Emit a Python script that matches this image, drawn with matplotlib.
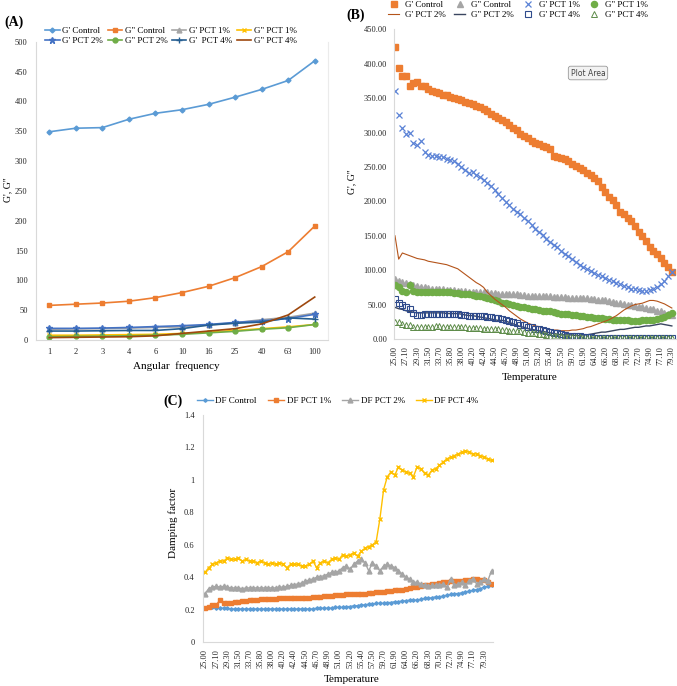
import matplotlib
matplotlib.use('Agg')
import matplotlib.pyplot as plt

plt.rcParams['font.family'] = ['Liberation Serif', 'DejaVu Serif']

# ---------------- (A) frequency sweep ----------------
freq_labels = ['1', '2', '3', '4', '6', '10', '16', '25', '40', '63', '100']
a_gp_control = [349, 355, 356, 370, 380, 386, 395, 407, 420, 435, 468]
a_gpp_control = [58, 60, 62, 65, 71, 79.5, 90, 104.5, 123, 148, 191]
a_gp_pct1 = [18, 18.5, 19, 20, 21, 22, 25, 29, 34, 38, 45]
a_gpp_pct1 = [8, 8, 8.5, 9, 9.5, 11, 13, 16, 19, 22, 26]
a_gp_pct2 = [19.5, 19.5, 20, 21, 22.5, 24, 26, 29.5, 32, 36, 43]
a_gpp_pct2 = [5.5, 6, 6.5, 7, 8, 9.5, 12, 14.5, 18, 20.5, 26]
a_gp_pct4 = [15, 15, 15.5, 16, 16, 19, 25, 28, 30, 37, 35]
a_gpp_pct4 = [4, 4.5, 5, 5.5, 7, 11, 15, 19, 27, 42, 72]

# ---------------- (B) temperature sweep ----------------
temp_labels = ['25.00', '27.10', '29.30', '31.50', '33.70', '35.80', '38.00', '40.20',
               '42.40', '44.50', '46.70', '48.90', '51.00', '53.20', '55.40', '57.50',
               '59.70', '61.90', '64.00', '66.20', '68.30', '70.50', '72.70', '74.90',
               '77.10', '79.30']
b_gp_control = [425, 394, 382, 382, 368, 372, 374, 368, 367, 363,
                360, 359, 357, 355, 354, 352, 350, 349, 347, 345,
                343, 341, 339, 337, 334, 331, 327, 324, 321, 318,
                315, 311, 307, 303, 298, 295, 292, 288, 285, 283,
                281, 279, 276, 266, 265, 263, 261, 258, 255, 252,
                249, 245, 241, 238, 234, 229, 221, 213, 207, 202,
                195, 185, 181, 176, 171, 164, 156, 149, 142, 134,
                128, 123, 117, 110, 104, 98]
b_gpp_control = [87, 85, 83, 81, 80, 78, 77, 76, 75, 74,
                 73, 73, 72, 72, 71, 71, 71, 70, 70, 70,
                 69, 69, 69, 68, 68, 68, 67, 67, 66, 66,
                 66, 65, 65, 65, 64, 64, 63, 63, 63, 62,
                 62, 62, 62, 61, 61, 61, 61, 60, 60, 60,
                 60, 59, 59, 58, 58, 57, 57, 56, 55, 54,
                 53, 52, 51, 50, 49, 48, 47, 46, 45, 44,
                 43, 41, 40, 38, 36, 35]
b_gp_pct1 = [360, 325, 306, 298, 300, 285, 282, 287, 272, 268,
             266, 266, 265, 264, 262, 260, 258, 255, 250, 246,
             241, 243, 239, 235, 231, 226, 222, 217, 211, 205,
             199, 194, 189, 185, 181, 176, 172, 166, 160, 155,
             151, 146, 141, 137, 133, 128, 124, 120, 116, 112,
             108, 105, 102, 99, 96, 93, 91, 89, 86, 84,
             82, 80, 77, 75, 73, 72, 71, 70, 70, 71,
             73, 76, 80, 85, 91, 98]
b_gpp_pct1 = [78, 75, 70, 68, 78, 70, 68, 68, 69, 68,
              68, 69, 69, 69, 68, 68, 67, 67, 66, 66,
              65, 64, 63, 62, 61, 59, 58, 56, 55, 53,
              52, 51, 50, 48, 47, 46, 45, 44, 43, 42,
              41, 40, 40, 39, 38, 37, 37, 36, 35, 35,
              34, 33, 32, 32, 31, 30, 30, 29, 29, 28,
              28, 27, 27, 27, 26, 26, 26, 27, 27, 27,
              28, 29, 30, 32, 35, 38]
b_gp_pct2 = [150, 116, 125, 123, 121, 119, 117, 116, 115, 113,
             112, 111, 110, 109, 108, 106, 104, 102, 98, 94,
             90, 86, 82, 79, 75, 68, 63, 58, 54, 50,
             46, 41, 37, 33, 29, 26, 23, 21, 19, 18,
             16, 15, 14, 13, 13, 12, 12, 12, 13, 13,
             14, 15, 17, 18, 20, 22, 24, 26, 28, 31,
             34, 38, 42, 45, 48, 50, 51, 52, 54, 56,
             56, 55, 53, 51, 48, 45]
b_gpp_pct2 = [46, 44, 43, 41, 40, 39, 38, 38, 38, 38,
              38, 38, 38, 38, 37, 37, 37, 37, 36, 35,
              34, 34, 33, 32, 31, 30, 29, 28, 27, 27,
              26, 24, 22, 20, 18, 17, 15, 14, 13, 12,
              11, 10, 9, 8, 7, 6, 6, 6, 6, 5,
              5, 6, 6, 7, 8, 9, 10, 10, 11, 12,
              13, 14, 14, 15, 16, 17, 17, 18, 19, 19,
              20, 21, 22, 21, 20, 19]
b_gp_pct4 = [58, 53, 50, 47, 44, 38, 35, 35, 36, 36,
             37, 37, 37, 37, 37, 37, 36, 36, 35, 35,
             34, 34, 33, 33, 33, 32, 32, 31, 30, 29,
             28, 26, 25, 23, 21, 20, 18, 17, 15, 14,
             13, 12, 10, 9, 8, 7, 6, 5, 5, 4,
             4, 3, 3, 3, 2, 2, 2, 1.5, 2, 2,
             1.5, 2, 2, 1.5, 2, 2, 1.5, 2, 2, 1.5,
             2, 2, 1.5, 2, 2, 2]
b_gpp_pct4 = [25, 24, 22, 21, 20, 18, 17, 17, 18, 18,
              18, 19, 19, 18, 18, 18, 18, 17, 17, 17,
              16, 16, 16, 16, 15, 15, 15, 14, 14, 13,
              13, 12, 12, 11, 11, 10, 9, 9, 8, 7,
              7, 6, 5, 5, 4, 4, 3, 3, 3, 3,
              3, 2, 2, 2, 2, 2, 2, 2, 2, 2,
              2, 2, 2, 2, 2, 2, 2, 2, 2, 2,
              2, 2, 2, 2, 2, 2]

# ---------------- (C) damping factor ----------------
c_control = [.21, .215, .215, .21, .21, .21, .21, .205, .205, .205,
             .205, .205, .205, .205, .205, .205, .205, .205, .205, .205,
             .205, .205, .205, .205, .205, .205, .205, .205, .205, .205,
             .21, .21, .21, .21, .21, .215, .215, .215, .22, .22,
             .225, .225, .23, .23, .235, .235, .24, .24, .24, .245,
             .245, .25, .25, .255, .255, .26, .26, .26, .265, .27,
             .27, .275, .28, .28, .285, .29, .295, .30, .30, .305,
             .31, .315, .32, .325, .33, .34, .345, .35]
c_pct1 = [.21, .22, .23, .23, .26, .24, .24, .245, .25, .25,
          .255, .255, .26, .26, .26, .265, .265, .265, .265, .265,
          .27, .27, .27, .27, .27, .27, .275, .275, .275, .28,
          .28, .28, .285, .285, .285, .29, .29, .29, .295, .295,
          .295, .30, .30, .30, .305, .305, .31, .31, .31, .315,
          .315, .32, .32, .325, .33, .335, .34, .34, .345, .35,
          .355, .36, .36, .365, .37, .37, .375, .375, .38, .38,
          .385, .385, .39, .39, .385, .385, .37, .36]
c_pct2 = [.30, .33, .34, .345, .34, .345, .34, .335, .335, .335,
          .33, .335, .335, .335, .335, .335, .335, .335, .335, .335,
          .34, .34, .345, .35, .355, .36, .365, .375, .385, .39,
          .40, .405, .41, .42, .43, .43, .44, .46, .47, .45,
          .48, .50, .51, .49, .44, .49, .47, .44, .47, .48,
          .47, .46, .44, .42, .40, .39, .37, .37, .36, .35,
          .345, .35, .35, .35, .36, .34, .39, .35, .36, .37,
          .35, .38, .39, .36, .37, .39, .38, .44]
c_pct4 = [.43, .46, .48, .49, .50, .50, .52, .51, .51, .52,
          .50, .51, .50, .50, .49, .50, .49, .48, .49, .48,
          .49, .48, .46, .48, .48, .48, .47, .47, .48, .50,
          .46, .49, .50, .49, .51, .52, .51, .54, .53, .54,
          .55, .53, .56, .58, .59, .60, .62, .76, .94, 1.02,
          1.05, 1.03, 1.08, 1.06, 1.05, 1.04, 1.02, 1.08, 1.07, 1.04,
          1.03, 1.06, 1.07, 1.09, 1.11, 1.13, 1.14, 1.15, 1.16, 1.17,
          1.18, 1.17, 1.16, 1.16, 1.15, 1.14, 1.13, 1.12]

W, H = 677, 686
fig = plt.figure(figsize=(W / 100, H / 100), dpi=100)


def box(l, t, r, b):
    # pixel box -> figure fraction rect
    return [l / W, 1 - b / H, (r - l) / W, (b - t) / H]


def style(ax):
    ax.spines['top'].set_visible(False)
    ax.spines['right'].set_visible(False)
    ax.spines['left'].set_color('#D9D9D9')
    ax.spines['bottom'].set_color('#D9D9D9')
    ax.tick_params(length=0, labelsize=6, colors='#262626')


# ---- panel A ----
axA = fig.add_axes(box(36, 41.7, 328, 340))
style(axA)
axA.spines['right'].set_visible(True)
axA.spines['right'].set_color('#EBEBEB')
xa = range(len(freq_labels))
la = []
la += axA.plot(xa, a_gp_control, color='#5B9BD5', marker='D', ms=2.5, lw=1.2, label="G' Control")
la += axA.plot(xa, a_gpp_control, color='#ED7D31', marker='s', ms=3.5, lw=1.2, label='G" Control')
la += axA.plot(xa, a_gp_pct1, color='#A5A5A5', marker='^', ms=3.5, lw=1.2, label="G' PCT 1%")
la += axA.plot(xa, a_gpp_pct1, color='#FFC000', marker='x', ms=3.5, lw=1.2, label='G" PCT 1%')
la += axA.plot(xa, a_gp_pct2, color='#4472C4', marker='*', ms=4.5, lw=1.2, label="G' PCT 2%")
la += axA.plot(xa, a_gpp_pct2, color='#70AD47', marker='o', ms=3.5, lw=1.2, label='G" PCT 2%')
la += axA.plot(xa, a_gp_pct4, color='#255E91', marker='+', ms=4.5, lw=1.2, label="G'  PCT 4%")
la += axA.plot(xa, a_gpp_pct4, color='#9E480E', lw=1.2, label='G" PCT 4%')
axA.set_xlim(-0.5, len(freq_labels) - 0.5)
axA.set_ylim(0, 500)
axA.set_yticks(range(0, 501, 50))
axA.set_xticks(list(xa))
axA.set_xticklabels(freq_labels)
axA.tick_params(axis='y', pad=6)
axA.tick_params(axis='x', pad=6)
order = [0, 4, 1, 5, 2, 6, 3, 7]
fig.legend([la[i] for i in order], [la[i].get_label() for i in order], ncol=4,
           loc='center', bbox_to_anchor=(171 / W, 1 - 36 / H), frameon=False,
           fontsize=6.5, handlelength=1.6, columnspacing=0.5, handletextpad=0.3,
           labelspacing=0.25)
fig.text(176 / W, 1 - 366 / H, 'Angular  frequency', ha='center', va='center', fontsize=8)
fig.text(8 / W, 1 - 190 / H, 'G\', G"', ha='center', va='center', rotation=90, fontsize=7)
fig.text(4 / W, 1 - 22 / H, '(A)', ha='left', va='center', fontsize=10, fontweight='bold')

# ---- panel B ----
axB = fig.add_axes(box(394, 29.3, 677, 339))
style(axB)
xb = range(len(b_gp_control))
lb = []
lb += axB.plot(xb, b_gp_control, ls='none', color='#ED7D31', marker='s', ms=4.6, label="G' Control")
lb += axB.plot(xb, b_gpp_control, ls='none', color='#A5A5A5', marker='^', ms=4, label='G" Control')
lb += axB.plot(xb, b_gp_pct1, ls='none', color='#5B82D6', marker='x', ms=4, mew=0.9, label="G' PCT 1%")
lb += axB.plot(xb, b_gpp_pct1, ls='none', color='#70AD47', marker='o', ms=4.4, label='G" PCT 1%')
lb += axB.plot(xb, b_gp_pct2, color='#B4541A', lw=0.8, label="G' PCT 2%")
lb += axB.plot(xb, b_gpp_pct2, color='#3A4660', lw=1.0, label='G" PCT 2%')
lb += axB.plot(xb, b_gp_pct4, ls='none', color='#2F4B8C', marker='s', ms=3.8, mfc='none', mew=0.8, label="G' PCT 4%")
lb += axB.plot(xb, b_gpp_pct4, ls='none', color='#5E8C4A', marker='^', ms=3.8, mfc='none', mew=0.7, label='G" PCT 4%')
axB.set_xlim(-0.27, 76.4)
axB.set_ylim(0, 450)
axB.set_yticks(range(0, 451, 50))
axB.set_yticklabels(['%.2f' % v for v in range(0, 451, 50)])
axB.set_xticks(range(0, 3 * len(temp_labels), 3))
axB.set_xticklabels(temp_labels, rotation=90)
axB.tick_params(axis='y', pad=5)
axB.tick_params(axis='x', pad=5)
fig.legend([lb[i] for i in order], [lb[i].get_label() for i in order], ncol=4,
           loc='center', bbox_to_anchor=(518 / W, 1 - 10 / H), frameon=False,
           fontsize=6.5, handlelength=1.2, columnspacing=1.0, handletextpad=0.6,
           labelspacing=0.2)
fig.text(530 / W, 1 - 378 / H, 'Temperature', ha='center', va='center', fontsize=8)
fig.text(352 / W, 1 - 182 / H, 'G\', G"', ha='center', va='center', rotation=90, fontsize=7)
fig.text(346 / W, 1 - 15 / H, '(B)', ha='left', va='center', fontsize=10, fontweight='bold')
fig.text(588 / W, 1 - 73 / H, 'Plot Area', ha='center', va='center', fontsize=5.5,
         family='DejaVu Sans', color='#444444',
         bbox=dict(boxstyle='round,pad=0.3', fc='#F2F2F2', ec='#999999', lw=0.6))

# ---- panel C ----
axC = fig.add_axes(box(203, 415, 493, 642.3))
style(axC)
xc = range(len(c_control))
lc = []
lc += axC.plot(xc, c_control, color='#5B9BD5', marker='D', ms=1.8, lw=1.0, label='DF Control')
lc += axC.plot(xc, c_pct1, color='#ED7D31', marker='s', ms=3.5, lw=1.0, label='DF PCT 1%')
lc += axC.plot(xc, c_pct2, color='#A5A5A5', marker='^', ms=3.5, lw=1.0, label='DF PCT 2%')
lc += axC.plot(xc, c_pct4, color='#FFC000', marker='x', ms=3.5, lw=1.0, label='DF PCT 4%')
axC.set_xlim(-0.54, 77.4)
axC.set_ylim(0, 1.4)
c_yticks = [0, 0.2, 0.4, 0.6, 0.8, 1.0, 1.2, 1.4]
axC.set_yticks(c_yticks)
axC.set_yticklabels(['0', '0.2', '0.4', '0.6', '0.8', '1', '1.2', '1.4'])
axC.set_xticks(range(0, 3 * len(temp_labels), 3))
axC.set_xticklabels(temp_labels, rotation=90)
axC.tick_params(axis='y', pad=6)
axC.tick_params(axis='x', pad=5)
fig.legend(lc, [l.get_label() for l in lc], ncol=4, loc='center',
           bbox_to_anchor=(338 / W, 1 - 401 / H), frameon=False, fontsize=6.5,
           handlelength=1.7, columnspacing=1.3, handletextpad=0.3)
fig.text(352 / W, 1 - 679 / H, 'Temperature', ha='center', va='center', fontsize=8)
fig.text(173 / W, 1 - 523 / H, 'Damping factor', ha='center', va='center', rotation=90, fontsize=8)
fig.text(163 / W, 1 - 401 / H, '(C)', ha='left', va='center', fontsize=10, fontweight='bold')

fig.savefig('out.png', dpi=100)
